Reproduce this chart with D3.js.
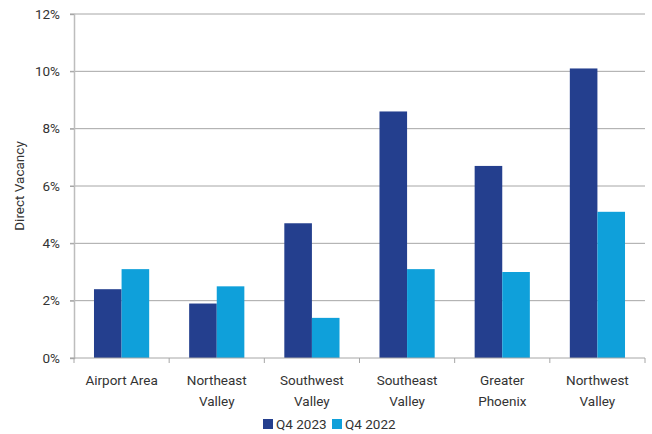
<!DOCTYPE html>
<html>
<head>
<meta charset="utf-8">
<script src="https://cdn.jsdelivr.net/npm/d3@7"></script>
<style>
  body { margin: 0; background: #fff; }
  svg text { font-family: Roboto, "Open Sans", sans-serif; fill: #333; }
</style>
</head>
<body>
<div id="chart"></div>
<script>
const categories = [["Airport Area"], ["Northeast", "Valley"], ["Southwest", "Valley"], ["Southeast", "Valley"], ["Greater", "Phoenix"], ["Northwest", "Valley"]];
const seriesNames = ["Q4 2023", "Q4 2022"];
const q42023 = [2.4, 1.9, 4.7, 8.6, 6.7, 10.1];
const q42022 = [3.1, 2.5, 1.4, 3.1, 3.0, 5.1];
const yTicks = [0, 2, 4, 6, 8, 10, 12];
const colors = ["#243f8e", "#0fa0da"];

const width = 652, height = 434;
const margin = { top: 14, right: 7, bottom: 76, left: 74 };
const fontSize = "13.5px";

const svg = d3.select("#chart").append("svg")
    .attr("width", width).attr("height", height);

const catKeys = categories.map(c => c.join(" "));
const x0 = d3.scaleBand().domain(catKeys)
    .range([margin.left, width - margin.right])
    .paddingInner(0.42).paddingOuter(0.21);
const x1 = d3.scaleBand().domain(seriesNames).range([0, x0.bandwidth()]);
const y = d3.scaleLinear().domain([0, 12]).range([height - margin.bottom, margin.top]);

// gridlines
svg.append("g").selectAll("line").data(yTicks.filter(d => d > 0)).join("line")
    .attr("x1", margin.left - 4).attr("x2", width - margin.right)
    .attr("y1", d => y(d)).attr("y2", d => y(d))
    .attr("stroke", "#a6a6a6").attr("stroke-width", 1);

// bars
const rows = catKeys.map((k, i) => ({ key: k, values: [q42023[i], q42022[i]] }));
svg.append("g").selectAll("g").data(rows).join("g")
    .attr("transform", d => `translate(${x0(d.key)},0)`)
    .selectAll("rect").data(d => d.values.map((v, j) => ({ name: seriesNames[j], v, j })))
    .join("rect")
    .attr("x", d => x1(d.name))
    .attr("width", x1.bandwidth())
    .attr("y", d => y(d.v))
    .attr("height", d => y(0) - y(d.v))
    .attr("fill", d => colors[d.j]);

// y axis
const yAxis = svg.append("g").attr("transform", `translate(${margin.left},0)`)
    .call(d3.axisLeft(y).tickValues(yTicks).tickFormat(d => d + "%").tickSize(4).tickPadding(10));
yAxis.select(".domain").attr("stroke", "#bdbdbd").attr("stroke-width", 1.5);
yAxis.selectAll(".tick line").attr("stroke", "#a6a6a6");
yAxis.selectAll("text").style("font-size", fontSize).attr("fill", "#333");

// x axis baseline + boundary ticks
const xStep = x0.step();
const boundaries = d3.range(categories.length + 1).map(i => margin.left + i * xStep);
svg.append("line")
    .attr("x1", margin.left - 4).attr("x2", width - margin.right)
    .attr("y1", y(0)).attr("y2", y(0))
    .attr("stroke", "#a6a6a6").attr("stroke-width", 1);
svg.append("g").selectAll("line").data(boundaries).join("line")
    .attr("x1", d => d).attr("x2", d => d)
    .attr("y1", y(0)).attr("y2", y(0) + 5)
    .attr("stroke", "#a6a6a6");

// category labels
const labels = svg.append("g").selectAll("text").data(categories).join("text")
    .attr("text-anchor", "middle")
    .attr("x", (d, i) => x0(catKeys[i]) + x0.bandwidth() / 2)
    .attr("y", y(0) + 27)
    .style("font-size", fontSize);
labels.selectAll("tspan").data(d => d).join("tspan")
    .attr("x", function () { return d3.select(this.parentNode).attr("x"); })
    .attr("dy", (d, i) => i === 0 ? 0 : 21)
    .text(d => d);

// axis title
svg.append("text")
    .attr("transform", `translate(24,${(y(0) + y(12)) / 2}) rotate(-90)`)
    .attr("text-anchor", "middle")
    .style("font-size", fontSize)
    .text("Direct Vacancy");

// legend
const legend = svg.append("g").attr("transform", `translate(263,${height - 10})`);
const legendOffsets = [0, 69];
seriesNames.forEach((name, i) => {
    const g = legend.append("g").attr("transform", `translate(${legendOffsets[i]},0)`);
    g.append("rect").attr("x", 0).attr("y", -5).attr("width", 10).attr("height", 10).attr("fill", colors[i]);
    g.append("text").attr("x", 13).attr("y", 5).style("font-size", fontSize).text(name);
});
</script>
</body>
</html>
